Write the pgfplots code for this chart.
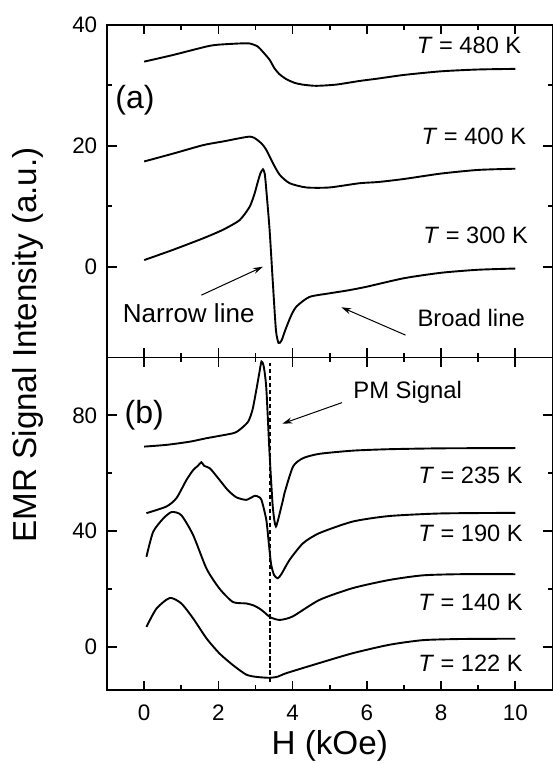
\documentclass[border=0pt]{standalone}
\usepackage{pgfplots}
\pgfplotsset{compat=1.18}
\usepackage{fontspec}
\setmainfont{Liberation Sans}
\usetikzlibrary{arrows.meta}
\pgfplotsset{
  emr/.style={
    width=222.5pt, height=166.25pt, scale only axis,
    xmin=-1, xmax=11, xtick={0,2,...,10}, minor x tick num=1,
    minor y tick num=1,
    tick align=inside,
    major tick length=4.8pt, minor tick length=2.4pt,
    axis line style={line width=0.85pt},
    tick style={black, line width=0.85pt},
    tick label style={font=\fontsize{11.2}{13}\selectfont},
    yticklabel style={xshift=-1.4pt},
    xticklabel style={yshift=-3.8pt},
    /pgf/number format/assume math mode=true,
    clip=false,
  },
  crv/.style={black, line width=0.95pt, smooth, tension=0.4, mark=none},
}
\tikzset{tlab/.style={anchor=east, inner sep=0pt, font=\fontsize{11.8}{14}\selectfont}}
\begin{document}
\begin{tikzpicture}
\path[use as bounding box] (-53.5pt,-36.85pt) rectangle (222.5pt,344.85pt);

% ---------- upper panel (a)
\begin{axis}[emr, at={(0pt,166.25pt)}, anchor=south west,
  ymin=-15, ymax=40, ytick={0,20,40}, xticklabels={}]
\addplot[crv] coordinates {
(0,33.9) (0.78,35.0) (1.68,36.4) (2.0,36.7) (2.57,36.9) (2.84,36.9)
(3.06,36.4) (3.2,35.5) (3.38,34.2) (3.51,32.8) (3.65,31.8) (3.83,31.0)
(4.05,30.4) (4.27,30.1) (4.63,29.9) (5.17,30.1) (5.8,30.7) (6.3,31.1)
(7,31.7) (8,32.3) (9,32.6) (10,32.7)};
\addplot[crv] coordinates {
(0,17.4) (0.78,18.7) (1.59,20.1) (2.12,20.7) (2.84,21.5) (3.06,20.9)
(3.2,20.1) (3.29,19.3) (3.47,17.1) (3.65,15.2) (3.92,13.8)
(4.37,13.1) (4.99,13.1) (5.8,13.8) (6.3,14.0) (7,14.5) (8,15.4) (9,16.0) (10,16.2)};
\addplot[crv] coordinates {
(0,1.1) (0.78,2.8) (1.59,4.7) (2.12,6.1) (2.57,7.7) (2.84,9.9) (2.97,12.0)
(3.06,14.0) (3.13,15.4) (3.2,16.1) (3.25,15.3) (3.3,12.0) (3.38,6.0)
(3.47,-3.0) (3.55,-10.5) (3.62,-12.6) (3.7,-12.2) (3.8,-10.5) (3.95,-8.2)
(4.1,-6.6) (4.45,-5.0) (4.99,-4.4) (5.5,-3.9) (6,-3.3) (7,-1.9) (8,-1.0)
(9,-0.5) (10,-0.3)};
\node[font=\fontsize{16}{19}\selectfont] at (axis cs:-0.25,27.5) {(a)};
\node[tlab] at (axis cs:10.17,36.6) {\textit{T} = 480 K};
\node[tlab] at (axis cs:10.3,21.5) {\textit{T} = 400 K};
\node[tlab] at (axis cs:10.35,5.2) {\textit{T} = 300 K};
\node[font=\fontsize{13}{15}\selectfont] at (axis cs:1.2,-7.7) {Narrow line};
\node[font=\fontsize{11.9}{14}\selectfont] at (axis cs:8.81,-8.5) {Broad line};
\draw[-{Stealth[length=5pt,width=3pt]}, line width=0.5pt] (axis cs:1.54,-4.7) -- (axis cs:3.2,0.0);
\draw[-{Stealth[length=5pt,width=3pt]}, line width=0.5pt] (axis cs:7.04,-11.3) -- (axis cs:5.31,-6.7);
\end{axis}

% ---------- lower panel (b)
\begin{axis}[emr, at={(0pt,0pt)}, anchor=south west,
  ymin=-15, ymax=100, ytick={0,40,80}]
\addplot[black, line width=1pt, dash pattern=on 2.2pt off 1.3pt] coordinates {(3.4,-12) (3.4,98)};
\addplot[crv] coordinates {
(0,69.2) (0.6,69.8) (1.23,70.9) (1.68,72.1) (2.39,73.8) (2.57,75.0)
(2.8,77.8) (2.92,82.0) (3.03,89.4) (3.1,94.5) (3.16,98.6) (3.22,97.0)
(3.29,89.4) (3.38,66.3) (3.46,49.1) (3.51,43.5) (3.55,41.6) (3.61,44.0)
(3.74,50.8) (3.78,53.1) (4.01,62.3) (4.28,65.2) (4.72,66.7) (5.62,67.8)
(6.6,68.3) (8,68.6) (10,68.7)};
\addplot[crv] coordinates {
(0.06,46.2) (0.6,48.5) (0.87,51.4) (1.14,57.7) (1.32,61.1) (1.45,62.6)
(1.54,63.8) (1.62,62.5) (1.77,61.7) (2.03,57.7) (2.25,54.2) (2.48,51.7)
(2.75,50.8) (2.98,52.2) (3.08,51.8) (3.16,50.8) (3.29,43.9)
(3.36,35.5) (3.42,28.5) (3.5,24.8) (3.6,23.7) (3.7,25.2) (3.92,30.1)
(4.28,35.8) (4.72,39.3) (5.62,43.3) (6.6,45.2) (8,46.1) (10,46.3)};
\addplot[crv] coordinates {
(0.06,31.1) (0.24,39.7) (0.51,44.3) (0.74,46.6) (1.0,45.5) (1.32,38.6)
(1.68,27.0) (2.03,20.1) (2.39,15.5) (2.75,15.0) (2.95,14.3) (3.11,13.2)
(3.25,11.8) (3.4,10.2) (3.65,9.3) (4.0,10.5) (4.72,16.2) (5.62,20.3)
(6.6,23.1) (7.5,24.7) (8.5,25.1) (10,25.1)};
\addplot[crv] coordinates {
(0.06,6.9) (0.33,13.2) (0.69,16.9) (1.0,15.0) (1.32,9.8) (1.68,2.9)
(2.03,-2.3) (2.39,-6.3) (2.75,-9.6) (3.03,-10.4) (3.38,-10.7) (3.6,-10.3)
(3.83,-9.1) (4.72,-5.6) (5.62,-2.2) (6.6,0.7) (7.5,2.3)
(8.5,2.7) (10,2.8)};
\node[font=\fontsize{16}{19}\selectfont] at (axis cs:0,80) {(b)};
\node[font=\fontsize{11.9}{14}\selectfont] at (axis cs:7.1,88.1) {PM Signal};
\draw[-{Stealth[length=5pt,width=3pt]}, line width=0.5pt] (axis cs:5.33,84.4) -- (axis cs:3.72,77.1);
\node[tlab] at (axis cs:10.21,59.3) {\textit{T} = 235 K};
\node[tlab] at (axis cs:10.21,39.1) {\textit{T} = 190 K};
\node[tlab] at (axis cs:10.21,15.5) {\textit{T} = 140 K};
\node[tlab] at (axis cs:10.21,-5.8) {\textit{T} = 122 K};
\end{axis}

\node[rotate=90, font=\fontsize{16.6}{19}\selectfont] at (-39.75pt,172.5pt) {EMR Signal Intensity (a.u.)};
\node[anchor=base, font=\fontsize{16.6}{19}\selectfont] at (111.25pt,-32.35pt) {H (kOe)};
\end{tikzpicture}
\end{document}
